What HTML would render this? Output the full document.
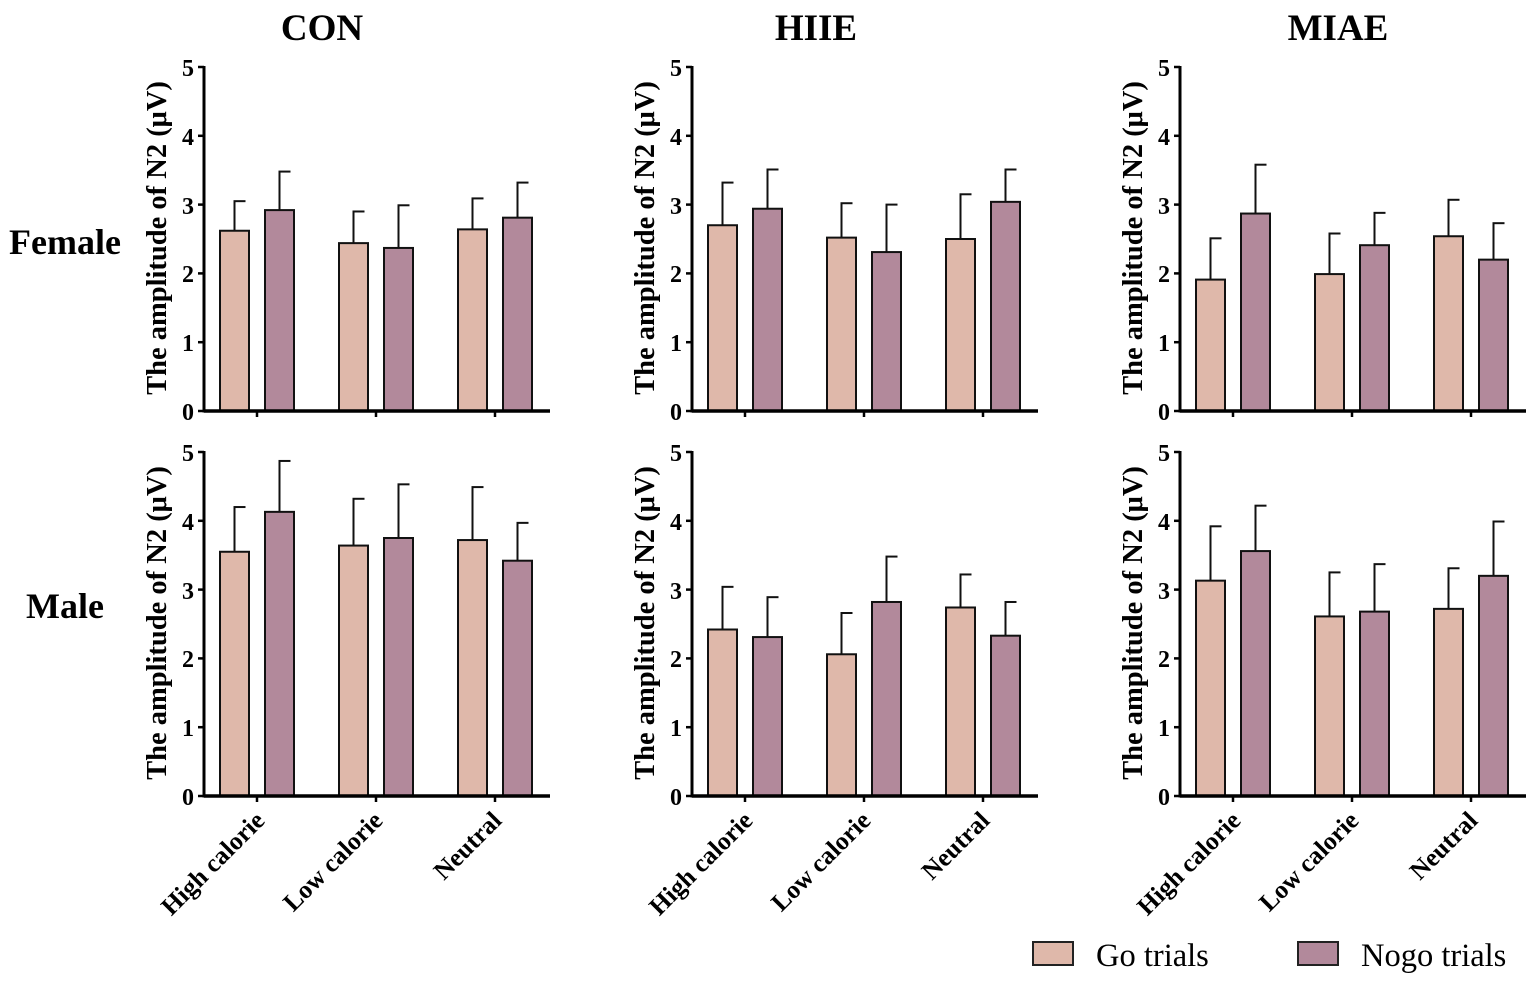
<!DOCTYPE html>
<html><head><meta charset="utf-8"><style>
html,body{margin:0;padding:0;background:#fff}
svg{display:block}
text{font-family:"Liberation Serif",serif;fill:#000}
.b{font-weight:bold}
</style></head><body>
<svg id="s" width="1535" height="983" viewBox="0 0 1535 983" xmlns="http://www.w3.org/2000/svg">
<text class="b" x="322" y="40" font-size="37" text-anchor="middle">CON</text>
<text class="b" x="816" y="40" font-size="37" text-anchor="middle">HIIE</text>
<text class="b" x="1338" y="40" font-size="37" text-anchor="middle">MIAE</text>
<text class="b" x="65" y="254" font-size="36" text-anchor="middle">Female</text>
<text class="b" x="65" y="618" font-size="36" text-anchor="middle">Male</text>

<g id="p"></g>

<g font-size="24" class="b" text-anchor="end">
<g transform="translate(204,0)"><text x="-10" y="76">5</text><text x="-10" y="145">4</text><text x="-10" y="214">3</text><text x="-10" y="282">2</text><text x="-10" y="351">1</text><text x="-10" y="420">0</text></g>
<g transform="translate(692,0)"><text x="-10" y="76">5</text><text x="-10" y="145">4</text><text x="-10" y="214">3</text><text x="-10" y="282">2</text><text x="-10" y="351">1</text><text x="-10" y="420">0</text></g>
<g transform="translate(1180,0)"><text x="-10" y="76">5</text><text x="-10" y="145">4</text><text x="-10" y="214">3</text><text x="-10" y="282">2</text><text x="-10" y="351">1</text><text x="-10" y="420">0</text></g>
<g transform="translate(204,385)"><text x="-10" y="76">5</text><text x="-10" y="145">4</text><text x="-10" y="214">3</text><text x="-10" y="282">2</text><text x="-10" y="351">1</text><text x="-10" y="420">0</text></g>
<g transform="translate(692,385)"><text x="-10" y="76">5</text><text x="-10" y="145">4</text><text x="-10" y="214">3</text><text x="-10" y="282">2</text><text x="-10" y="351">1</text><text x="-10" y="420">0</text></g>
<g transform="translate(1180,385)"><text x="-10" y="76">5</text><text x="-10" y="145">4</text><text x="-10" y="214">3</text><text x="-10" y="282">2</text><text x="-10" y="351">1</text><text x="-10" y="420">0</text></g>
</g>

<g font-size="28.5" class="b" text-anchor="middle">
<text transform="translate(166,238) rotate(-90)">The amplitude of N2 (μV)</text>
<text transform="translate(654,238) rotate(-90)">The amplitude of N2 (μV)</text>
<text transform="translate(1142,238) rotate(-90)">The amplitude of N2 (μV)</text>
<text transform="translate(166,623) rotate(-90)">The amplitude of N2 (μV)</text>
<text transform="translate(654,623) rotate(-90)">The amplitude of N2 (μV)</text>
<text transform="translate(1142,623) rotate(-90)">The amplitude of N2 (μV)</text>
</g>

<g font-size="25.5" class="b" text-anchor="end">
<text transform="translate(266,822) rotate(-45)">High calorie</text>
<text transform="translate(384,822) rotate(-45)">Low calorie</text>
<text transform="translate(503,822) rotate(-45)">Neutral</text>
<text transform="translate(754,822) rotate(-45)">High calorie</text>
<text transform="translate(872,822) rotate(-45)">Low calorie</text>
<text transform="translate(991,822) rotate(-45)">Neutral</text>
<text transform="translate(1242,822) rotate(-45)">High calorie</text>
<text transform="translate(1360,822) rotate(-45)">Low calorie</text>
<text transform="translate(1479,822) rotate(-45)">Neutral</text>
</g>

<rect x="1033" y="942" width="40" height="23" fill="#dfb8aa" stroke="#222" stroke-width="2"/>
<text x="1096" y="966" font-size="32.5">Go trials</text>
<rect x="1298" y="942" width="40" height="23" fill="#b2899b" stroke="#222" stroke-width="2"/>
<text x="1361" y="966" font-size="32.5">Nogo trials</text>
</svg>
<script>
(function(){
var D=[
[[2.62,3.05],[2.92,3.48],[2.44,2.90],[2.37,2.99],[2.64,3.09],[2.81,3.32]],
[[2.70,3.32],[2.94,3.51],[2.52,3.02],[2.31,3.00],[2.50,3.15],[3.04,3.51]],
[[1.91,2.51],[2.87,3.58],[1.99,2.58],[2.41,2.88],[2.54,3.07],[2.20,2.73]],
[[3.55,4.20],[4.13,4.87],[3.64,4.32],[3.75,4.53],[3.72,4.49],[3.42,3.97]],
[[2.42,3.04],[2.31,2.89],[2.06,2.66],[2.82,3.48],[2.74,3.22],[2.33,2.82]],
[[3.13,3.92],[3.56,4.22],[2.61,3.25],[2.68,3.37],[2.72,3.31],[3.20,3.99]]];
var h='';
for(var p=0;p<6;p++){
 var x0=[204,692,1180][p%3], y0=p<3?411:796, u=68.8;
 var d=D[p];
 for(var i=0;i<6;i++){
  var grp=Math.floor(i/2), bx=x0+16+grp*119+(i%2)*45, w=29;
  var bt=y0-d[i][0]*u, et=y0-d[i][1]*u, cx=bx+w/2;
  h+='<line x1="'+cx+'" y1="'+bt+'" x2="'+cx+'" y2="'+et+'" stroke="#111" stroke-width="2"/>';
  h+='<line x1="'+(cx-1)+'" y1="'+et+'" x2="'+(cx+11)+'" y2="'+et+'" stroke="#111" stroke-width="2"/>';
  h+='<rect x="'+bx+'" y="'+bt+'" width="'+w+'" height="'+(y0-bt)+'" fill="'+(i%2?'#b2899b':'#dfb8aa')+'" stroke="#111" stroke-width="2"/>';
 }
 h+='<line x1="'+x0+'" y1="'+(y0-5*u-1)+'" x2="'+x0+'" y2="'+(y0+1.5)+'" stroke="#000" stroke-width="3"/>';
 for(var t=0;t<=5;t++)h+='<line x1="'+(x0-6)+'" y1="'+(y0-t*u)+'" x2="'+x0+'" y2="'+(y0-t*u)+'" stroke="#000" stroke-width="2.5"/>';
 h+='<line x1="'+x0+'" y1="'+y0+'" x2="'+(x0+346)+'" y2="'+y0+'" stroke="#000" stroke-width="3.5"/>';
 for(var k=0;k<3;k++){var tx=x0+53+k*119;h+='<line x1="'+tx+'" y1="'+y0+'" x2="'+tx+'" y2="'+(y0+6)+'" stroke="#000" stroke-width="2.5"/>';}
}
document.getElementById('p').innerHTML=h;
})();
</script>
</body></html>
